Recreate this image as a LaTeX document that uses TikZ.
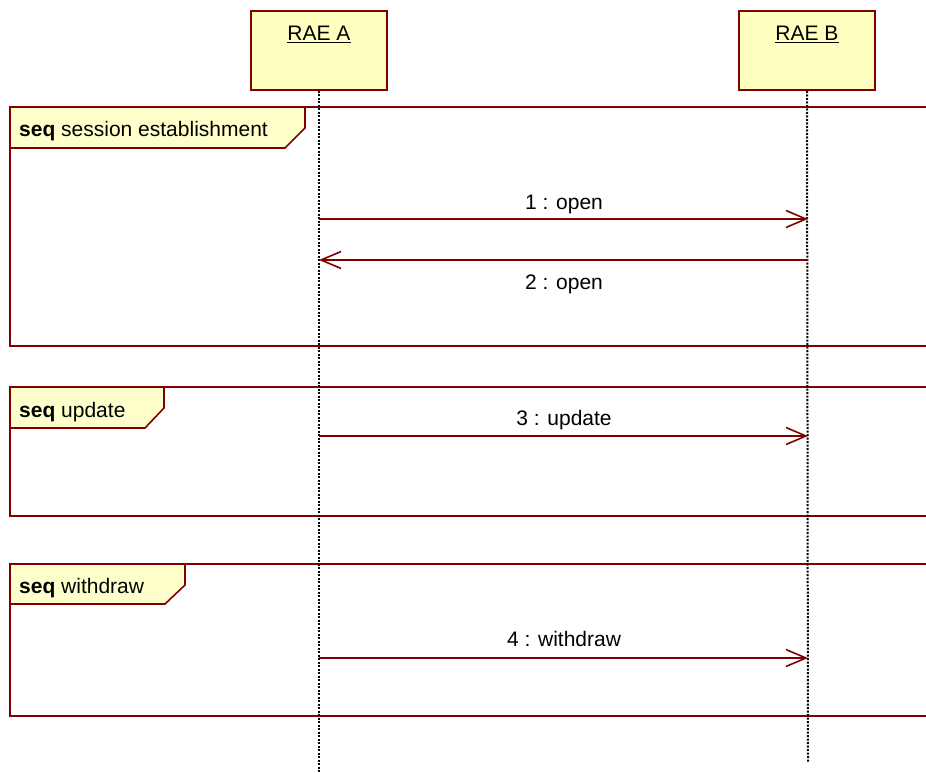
\documentclass[tikz,border=0pt]{standalone}
\usepackage{fontspec}
\setmainfont{Liberation Sans}
\usetikzlibrary{arrows.meta}
\definecolor{umlred}{RGB}{128,0,0}
\definecolor{umlfill}{RGB}{255,255,192}
\definecolor{tabfill}{RGB}{255,255,204}
\begin{document}
\begin{tikzpicture}[x=1pt,y=-1pt,
  lifebox/.style={draw=umlred,line width=2pt,fill=umlfill,minimum width=136pt,minimum height=79pt,anchor=north west,inner sep=0pt},
  lifeline/.style={line width=2pt,dash pattern=on 2pt off 1.5pt,black},
  frame/.style={draw=umlred,line width=1.6pt},
  tabshape/.style={draw=umlred,line width=1.6pt,fill=tabfill},
  msg/.style={draw=umlred,line width=1.8pt,-{Straight Barb[length=20pt,width=17pt,line width=1.6pt]}},
  lbl/.style={font=\fontsize{21}{24}\selectfont,inner sep=0pt,anchor=base},
  tablbl/.style={font=\fontsize{21}{24}\selectfont,inner sep=0pt,anchor=base west}]
\useasboundingbox (0,0) rectangle (926,773);
\clip (0,0) rectangle (926,773);

% combined fragments (they run past the right edge)
\draw[frame] (10,107) rectangle (950,346);
\draw[frame] (10,387) rectangle (950,516);
\draw[frame] (10,564) rectangle (950,716);

% fragment tabs
\draw[tabshape] (10,107) -- (305,107) -- (305,128) -- (285,148) -- (10,148) -- cycle;
\draw[tabshape] (10,387) -- (164,387) -- (164,408) -- (145,428) -- (10,428) -- cycle;
\draw[tabshape] (10,564) -- (185,564) -- (185,585) -- (165,604) -- (10,604) -- cycle;
\node[tablbl] (t1) at (19,136) {\textbf{seq} session establishment};
\node[tablbl] (t2) at (19,417) {\textbf{seq} update};
\node[tablbl] (t3) at (19,593) {\textbf{seq} withdraw};

% lifelines
\node[lifebox] (A) at (250,10) {};
\node[lifebox] (B) at (738,10) {};
\node[lbl] at (319,41) {\underline{RAE A}};
\node[lbl] at (807,41) {\underline{RAE B}};
\coordinate (Aend) at (319,773);
\coordinate (Bend) at (808,762);
\draw[lifeline] (A.south) -- (Aend);
\draw[lifeline] (B.south) -- (Bend);

% messages
\coordinate (a1) at (319,219); \coordinate (b1) at (808,219);
\coordinate (a2) at (319,260); \coordinate (b2) at (808,260);
\coordinate (a3) at (319,436); \coordinate (b3) at (808,436);
\coordinate (a4) at (319,658); \coordinate (b4) at (808,658);
\draw[msg] (a1) -- (b1);
\draw[msg] (b2) -- (a2);
\draw[msg] (a3) -- (b3);
\draw[msg] (a4) -- (b4);
\node[lbl] (m1) at (564,209) {1 : open};
\node[lbl] (m2) at (564,289) {2 : open};
\node[lbl] (m3) at (564,425) {3 : update};
\node[lbl] (m4) at (564,646) {4 : withdraw};
\end{tikzpicture}
\end{document}
